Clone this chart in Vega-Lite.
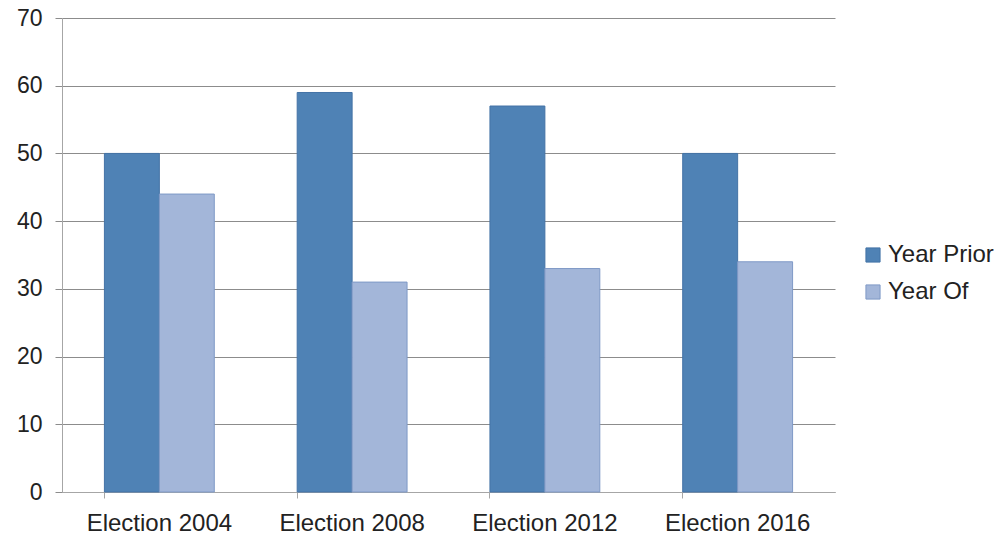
{
  "$schema": "https://vega.github.io/schema/vega-lite/v6.json",
  "width": 773,
  "height": 474,
  "autosize": {"type": "none"},
  "padding": {"left": 62, "top": 18, "right": 171, "bottom": 43},
  "background": "white",
  "config": {
    "font": "Liberation Sans",
    "view": {"stroke": null},
    "axis": {"labelFont": "Liberation Sans", "labelColor": "#222222", "labelFontSize": 24}
  },
  "data": {
    "values": [
      {"election": "Election 2004", "series": "Year Prior", "value": 50},
      {"election": "Election 2004", "series": "Year Of", "value": 44},
      {"election": "Election 2008", "series": "Year Prior", "value": 59},
      {"election": "Election 2008", "series": "Year Of", "value": 31},
      {"election": "Election 2012", "series": "Year Prior", "value": 57},
      {"election": "Election 2012", "series": "Year Of", "value": 33},
      {"election": "Election 2016", "series": "Year Prior", "value": 50},
      {"election": "Election 2016", "series": "Year Of", "value": 34}
    ]
  },
  "mark": {"type": "bar", "strokeWidth": 1},
  "encoding": {
    "x": {
      "field": "election",
      "type": "nominal",
      "sort": null,
      "scale": {"paddingInner": 0.43, "paddingOuter": 0.22},
      "axis": {
        "title": null,
        "labelAngle": 0,
        "labelPadding": 13,
        "bandPosition": 0,
        "tickSize": 6,
        "tickColor": "#a6a6a6",
        "domainColor": "#a6a6a6",
        "grid": false
      }
    },
    "xOffset": {"field": "series", "type": "nominal", "sort": ["Year Prior", "Year Of"]},
    "y": {
      "field": "value",
      "type": "quantitative",
      "scale": {"domain": [0, 70], "nice": false},
      "axis": {
        "title": null,
        "values": [0, 10, 20, 30, 40, 50, 60, 70],
        "tickSize": 7,
        "tickColor": "#8c8c8c",
        "labelPadding": 13,
        "labelFontSize": 23,
        "domainColor": "#a6a6a6",
        "gridColor": "#8c8c8c",
        "gridWidth": 1
      }
    },
    "color": {
      "field": "series",
      "type": "nominal",
      "sort": ["Year Prior", "Year Of"],
      "scale": {"domain": ["Year Prior", "Year Of"], "range": ["#4f82b5", "#a3b6d9"]},
      "legend": {
        "title": null,
        "orient": "none",
        "legendX": 799,
        "legendY": 225,
        "symbolType": "square",
        "symbolSize": 200,
        "symbolStrokeWidth": 1,
        "labelFontSize": 24,
        "labelColor": "#222222",
        "labelFont": "Liberation Sans",
        "rowPadding": 13,
        "labelOffset": 3
      }
    },
    "stroke": {
      "field": "series",
      "type": "nominal",
      "scale": {"domain": ["Year Prior", "Year Of"], "range": ["#4473a6", "#7f99c6"]},
      "legend": null
    }
  }
}
